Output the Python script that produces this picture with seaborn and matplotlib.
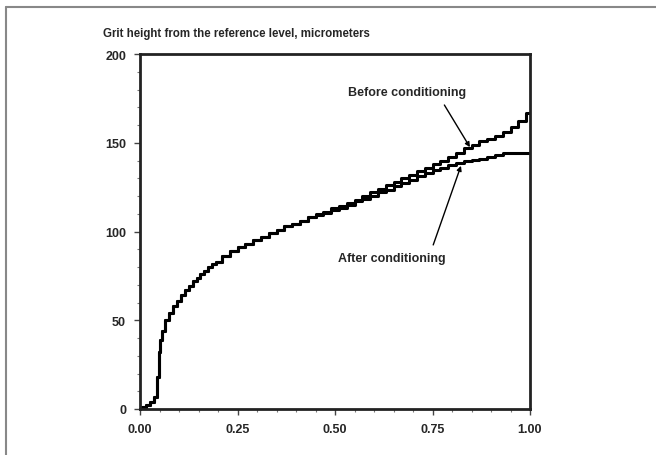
import numpy as np
import pandas as pd
import matplotlib
matplotlib.use("Agg")
import matplotlib.pyplot as plt
import seaborn as sns
from matplotlib.lines import Line2D
from matplotlib.ticker import MultipleLocator

# Bearing fraction (x) and grit heights
fraction = [0.00, 0.01, 0.02, 0.03, 0.04, 0.045, 0.05, 0.055, 0.06, 0.07,
            0.08, 0.09, 0.10, 0.11, 0.12, 0.13, 0.14, 0.15, 0.16, 0.17, 0.18, 0.19,
            0.20, 0.22, 0.24, 0.26, 0.28, 0.30, 0.32, 0.34, 0.36, 0.38,
            0.40, 0.42, 0.44, 0.46, 0.48, 0.50, 0.52, 0.54, 0.56, 0.58,
            0.60, 0.62, 0.64, 0.66, 0.68, 0.70, 0.72, 0.74, 0.76, 0.78,
            0.80, 0.82, 0.84, 0.86, 0.88, 0.90, 0.92, 0.94, 0.96, 0.98, 1.00]

before = [0, 1, 2, 4, 7, 18, 32, 39, 44, 50,
          54, 58, 61, 64, 67, 69.5, 72, 74, 76, 78, 80, 81.5,
          83, 86, 89, 91, 93, 95, 97, 99, 101, 103,
          104.5, 106, 108, 110, 111, 113, 114.5, 116, 118, 120,
          122, 124, 126, 128, 130, 132, 134, 136, 138, 140,
          142, 144, 147, 149, 151, 152, 154, 156, 159, 162, 167]

after = [0, 1, 2, 4, 7, 18, 32, 39, 44, 50,
         54, 58, 61, 64, 67, 69.5, 72, 74, 76, 78, 80, 81.5,
         83, 86, 89, 91, 93, 95, 97, 99, 101, 103,
         104.5, 106, 108, 109.5, 110.5, 112, 113.5, 115, 117, 118.5,
         120, 122, 123.5, 125.5, 127.5, 129, 131, 133, 134.5, 136,
         137.5, 138.5, 139.5, 140.5, 141, 142, 143, 144, 144, 144, 144]

x_ticks = [0.00, 0.25, 0.50, 0.75, 1.00]
x_labels = ["0.00", "0.25", "0.50", "0.75", "1.00"]
y_ticks = [0, 50, 100, 150, 200]

df = pd.DataFrame({"fraction": fraction + fraction,
                   "height": before + after,
                   "state": ["Before conditioning"] * len(fraction) + ["After conditioning"] * len(fraction)})

sns.set_style("white")
plt.rcParams["font.family"] = ["Liberation Sans", "DejaVu Sans"]

fig = plt.figure(figsize=(6.56, 4.56), dpi=100)
ax = fig.add_axes([140 / 656, 1 - 410 / 456, 390 / 656, 355 / 456])

sns.lineplot(data=df, x="fraction", y="height", hue="state",
             palette={"Before conditioning": "black", "After conditioning": "black"},
             drawstyle="steps-mid", linewidth=2.2, legend=False, ax=ax)

ax.set_xlim(0, 1)
ax.set_ylim(0, 200)
ax.set_xticks(x_ticks)
ax.set_xticklabels(x_labels, fontsize=9, fontweight="bold")
ax.set_yticks(y_ticks)
ax.set_yticklabels([str(v) for v in y_ticks], fontsize=9, fontweight="bold")
ax.xaxis.set_minor_locator(MultipleLocator(0.05))
ax.yaxis.set_minor_locator(MultipleLocator(10))
ax.tick_params(axis="both", which="major", direction="out", length=4, width=1, color="#444444", pad=6)
ax.tick_params(axis="both", which="minor", direction="out", length=2, width=0.8, color="#777777")
ax.tick_params(bottom=True, left=True, which="both")
ax.set_xlabel("")
ax.set_ylabel("")
for s in ax.spines.values():
    s.set_color("#222222")
    s.set_linewidth(2)

fig.text(103 / 656, 1 - 34 / 456, "Grit height from the reference level, micrometers",
         fontsize=8.3, fontweight="bold", va="center", ha="left")

ax.annotate("Before conditioning", xy=(0.846, 147.5), xytext=(0.685, 178.5),
            fontsize=9, fontweight="bold", ha="center", va="center",
            arrowprops=dict(arrowstyle="-|>", color="black", lw=1, mutation_scale=7,
                            relpos=(0.78, 0), shrinkA=3, shrinkB=0))
ax.annotate("After conditioning", xy=(0.823, 137), xytext=(0.646, 85),
            fontsize=9, fontweight="bold", ha="center", va="center",
            arrowprops=dict(arrowstyle="-|>", color="black", lw=1, mutation_scale=7,
                            relpos=(0.86, 1), shrinkA=3, shrinkB=0))

# partial grey frame around the figure
fig.add_artist(Line2D([6 / 656, 1], [1 - 8 / 456, 1 - 8 / 456], transform=fig.transFigure,
                      color="#888888", lw=1.5))
fig.add_artist(Line2D([6 / 656, 6 / 656], [0, 1 - 8 / 456], transform=fig.transFigure,
                      color="#888888", lw=1.5))

fig.savefig("out.png", dpi=100)
